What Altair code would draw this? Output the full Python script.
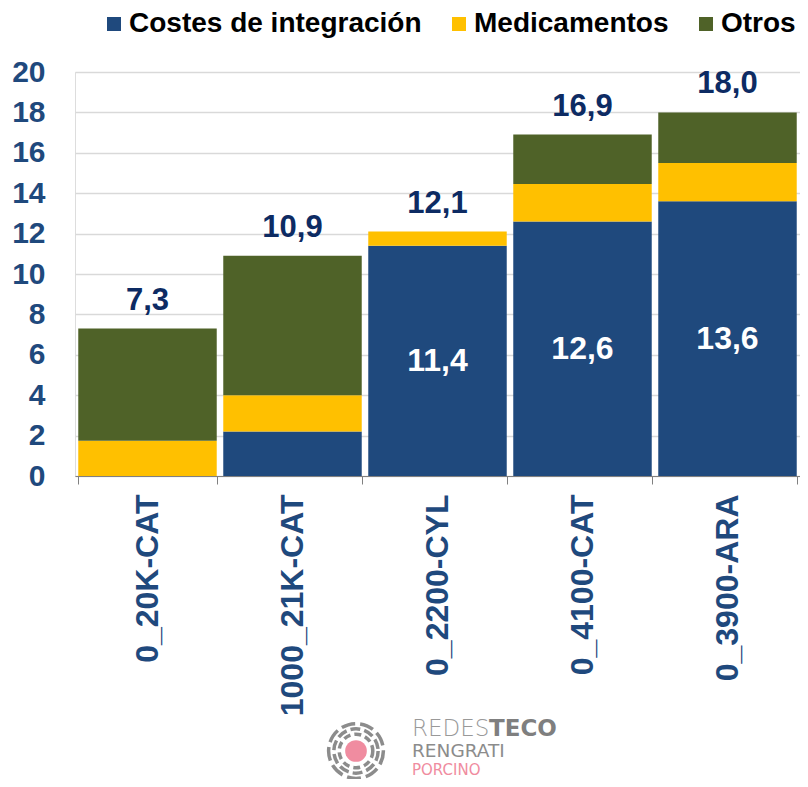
import altair as alt
import pandas as pd

categories = ["0_20K-CAT", "1000_21K-CAT", "0_2200-CYL", "0_4100-CAT", "0_3900-ARA"]
series = ["Costes de integración", "Medicamentos", "Otros"]
costes = [0.0, 2.2, 11.4, 12.6, 13.6]
medicamentos = [1.75, 1.8, 0.7, 1.85, 1.9]
otros = [5.55, 6.9, 0.0, 2.45, 2.5]
totals = [7.3, 10.9, 12.1, 16.9, 18.0]
y_ticks = [0, 2, 4, 6, 8, 10, 12, 14, 16, 18, 20]
colors = ["#1F497D", "#FFC000", "#4F6228"]

rows = []
for i, c in enumerate(categories):
    for j, (s, vals) in enumerate(zip(series, [costes, medicamentos, otros])):
        rows.append({"cat": c, "serie": s, "valor": vals[i], "orden": j})
df = pd.DataFrame(rows)

df_tot = pd.DataFrame({
    "cat": categories,
    "total": totals,
    "label": [f"{v:.1f}".replace(".", ",") for v in totals],
})
df_in = pd.DataFrame({
    "cat": categories,
    "valor": costes,
    "label": [f"{v:.1f}".replace(".", ",") if v > 5 else "" for v in costes],
})

FONT = "Liberation Sans"
PL, PT = 67, 64          # padding left / top (plot origin = page 8px margin + padding)
OX, OY = 8 + PL, 8 + PT  # plot origin in page pixels

x_enc = alt.X("cat:N", sort=categories, title=None,
              scale=alt.Scale(paddingInner=0.045, paddingOuter=0.0225),
              axis=alt.Axis(labelAngle=-90, labelFont=FONT, labelFontSize=32,
                            labelFontWeight="bold", labelColor="#1F497D",
                            labelPadding=10, tickBand="extent", tickSize=8,
                            tickColor="#808080", domainColor="#808080",
                            labelLimit=400))

bars = alt.Chart(df).mark_bar().encode(
    x=x_enc,
    y=alt.Y("sum(valor):Q", title=None, stack="zero",
            scale=alt.Scale(domain=[0, 20], nice=False),
            axis=alt.Axis(values=y_ticks, labelFont=FONT, labelFontSize=30,
                          labelFontWeight="bold", labelColor="#1F497D",
                          domain=False, ticks=False, labelPadding=30,
                          grid=True, gridColor="#D9D9D9", gridWidth=1.5)),
    color=alt.Color("serie:N", sort=series,
                    scale=alt.Scale(domain=series, range=colors),
                    legend=alt.Legend(title=None, orient="none", direction="horizontal",
                                      legendX=25, legendY=-62, padding=0,
                                      symbolType="square", symbolSize=196,
                                      symbolStrokeWidth=0, symbolOpacity=1,
                                      labelFont=FONT, labelFontSize=28,
                                      labelFontWeight="bold", labelColor="#000000",
                                      labelOffset=1, columnPadding=23,
                                      labelLimit=400)),
    order=alt.Order("orden:Q", sort="ascending"),
)

tot_text = alt.Chart(df_tot).mark_text(
    font=FONT, fontSize=31, fontWeight="bold", color="#0D2B63",
    baseline="alphabetic", dy=-19,
).encode(
    x=alt.X("cat:N", sort=categories),
    y=alt.Y("total:Q"),
    text="label:N",
)

in_text = alt.Chart(df_in).mark_text(
    font=FONT, fontSize=32, fontWeight="bold", color="white", baseline="middle",
).encode(
    x=alt.X("cat:N", sort=categories),
    y=alt.Y("mid:Q"),
    text="label:N",
).transform_calculate(mid="datum.valor / 2")

one = alt.Data(values=[{"a": 1}])
LX, LY = 356 - OX, 751 - OY
rings = []
for size, dash in [(3000, [14, 5]), (1960, [10, 4]), (1130, [7, 4])]:
    rings.append(alt.Chart(one).mark_point(
        shape="circle", filled=False, size=size, stroke="#8C8C8C",
        strokeWidth=3.5, strokeDash=dash, opacity=1,
    ).encode(x=alt.value(LX), y=alt.value(LY)))
dot = alt.Chart(one).mark_point(shape="circle", filled=True, size=470,
                                color="#F08CA0", opacity=1).encode(
    x=alt.value(LX), y=alt.value(LY))

LOGO_FONT = "DejaVu Sans"
logo_t1 = alt.Chart(one).mark_text(font=LOGO_FONT, fontSize=23, fontWeight=200,
                                   color="#999999", align="left", baseline="alphabetic").encode(
    x=alt.value(412 - OX), y=alt.value(736 - OY), text=alt.value("REDES"))
logo_t2 = alt.Chart(one).mark_text(font=LOGO_FONT, fontSize=23, fontWeight="bold",
                                   color="#7F7F7F", align="left", baseline="alphabetic").encode(
    x=alt.value(489 - OX), y=alt.value(736 - OY), text=alt.value("TECO"))
logo_t3 = alt.Chart(one).mark_text(font=LOGO_FONT, fontSize=18.5, fontWeight=400,
                                   color="#8C8C8C", align="left", baseline="alphabetic").encode(
    x=alt.value(412 - OX), y=alt.value(757 - OY), text=alt.value("RENGRATI"))
logo_t4 = alt.Chart(one).mark_text(font=LOGO_FONT, fontSize=15, fontWeight=400,
                                   color="#F08CA0", align="left", baseline="alphabetic").encode(
    x=alt.value(412 - OX), y=alt.value(775 - OY), text=alt.value("PORCINO"))

chart = alt.layer(bars, tot_text, in_text, *rings, dot,
                  logo_t1, logo_t2, logo_t3, logo_t4).properties(
    width=725, height=404,
    autosize=alt.AutoSizeParams(type="none"),
    padding={"left": PL, "top": PT, "right": 0, "bottom": 303},
).configure_view(stroke=None).configure(background="white")

chart.save("out.html", embed_options={"renderer": "svg", "actions": False})
